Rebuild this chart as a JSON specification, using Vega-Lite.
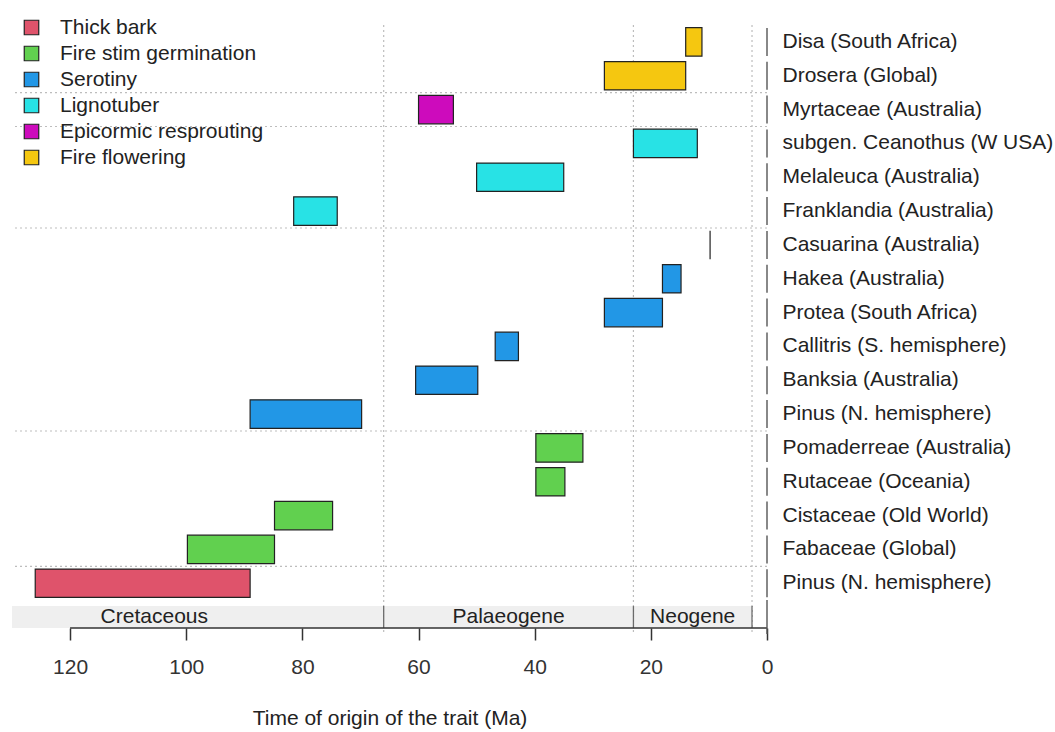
{
  "$schema": "https://vega.github.io/schema/vega-lite/v6.json",
  "autosize": {"type": "none"},
  "width": 755,
  "height": 609,
  "padding": {"left": 12, "top": 25, "right": 288, "bottom": 98},
  "background": "white",
  "config": {
    "font": "Liberation Sans",
    "view": {"stroke": null},
    "text": {"font": "Liberation Sans"}
  },
  "datasets": {
    "traits": [
      {"taxon": "Disa (South Africa)", "trait": "Fire flowering", "start": 14, "end": 11.2},
      {"taxon": "Drosera (Global)", "trait": "Fire flowering", "start": 28, "end": 14},
      {"taxon": "Myrtaceae (Australia)", "trait": "Epicormic resprouting", "start": 60, "end": 54},
      {"taxon": "subgen. Ceanothus (W USA)", "trait": "Lignotuber", "start": 23, "end": 12},
      {"taxon": "Melaleuca (Australia)", "trait": "Lignotuber", "start": 50, "end": 35},
      {"taxon": "Franklandia (Australia)", "trait": "Lignotuber", "start": 81.5, "end": 74},
      {"taxon": "Casuarina (Australia)", "trait": "Serotiny", "start": 9.8, "end": 9.8},
      {"taxon": "Hakea (Australia)", "trait": "Serotiny", "start": 18, "end": 14.8},
      {"taxon": "Protea (South Africa)", "trait": "Serotiny", "start": 28, "end": 18},
      {"taxon": "Callitris (S. hemisphere)", "trait": "Serotiny", "start": 46.8, "end": 42.8},
      {"taxon": "Banksia (Australia)", "trait": "Serotiny", "start": 60.5, "end": 49.8},
      {"taxon": "Pinus (N. hemisphere)", "trait": "Serotiny", "start": 89, "end": 69.8},
      {"taxon": "Pomaderreae (Australia)", "trait": "Fire stim germination", "start": 39.8, "end": 31.7},
      {"taxon": "Rutaceae (Oceania)", "trait": "Fire stim germination", "start": 39.8, "end": 34.8},
      {"taxon": "Cistaceae (Old World)", "trait": "Fire stim germination", "start": 84.8, "end": 74.8},
      {"taxon": "Fabaceae (Global)", "trait": "Fire stim germination", "start": 99.8, "end": 84.8},
      {"taxon": "Pinus (N. hemisphere) ", "trait": "Thick bark", "start": 126, "end": 89}
    ],
    "separators": [
      {"taxon": "Myrtaceae (Australia)"},
      {"taxon": "subgen. Ceanothus (W USA)"},
      {"taxon": "Casuarina (Australia)"},
      {"taxon": "Pomaderreae (Australia)"},
      {"taxon": "Pinus (N. hemisphere) "}
    ],
    "boundaries": [
      {"ma": 66, "taxon": "period"},
      {"ma": 23, "taxon": "period"},
      {"ma": 2.58, "taxon": "period"}
    ],
    "periods": [
      {"period": "Cretaceous", "start": 145, "end": 66, "mid": 105.5, "taxon": "period"},
      {"period": "Palaeogene", "start": 66, "end": 23, "mid": 44.5, "taxon": "period"},
      {"period": "Neogene", "start": 23, "end": 2.58, "mid": 12.8, "taxon": "period"}
    ],
    "axisline": [
      {"a": 120, "b": 0, "taxon": "period"}
    ]
  },
  "encoding": {
    "y": {
      "field": "taxon",
      "type": "nominal",
      "scale": {
        "domain": [
          "Disa (South Africa)", "Drosera (Global)", "Myrtaceae (Australia)", "subgen. Ceanothus (W USA)",
          "Melaleuca (Australia)", "Franklandia (Australia)", "Casuarina (Australia)", "Hakea (Australia)",
          "Protea (South Africa)", "Callitris (S. hemisphere)", "Banksia (Australia)", "Pinus (N. hemisphere)",
          "Pomaderreae (Australia)", "Rutaceae (Oceania)", "Cistaceae (Old World)", "Fabaceae (Global)",
          "Pinus (N. hemisphere) ", "period"
        ],
        "paddingInner": 0,
        "paddingOuter": 0
      },
      "axis": {
        "orient": "right",
        "title": null,
        "domain": false,
        "ticks": false,
        "grid": false,
        "labelPadding": 15,
        "labelFontSize": 21,
        "labelColor": "#222222",
        "labelFont": "Liberation Sans",
        "labelLimit": 400,
        "labelExpr": "datum.value == 'period' ? '' : datum.value"
      }
    }
  },
  "layer": [
    {
      "data": {"name": "boundaries"},
      "mark": {"type": "rule", "color": "#bdbdbd", "strokeDash": [2, 3], "strokeWidth": 1.2},
      "encoding": {
        "x": {"field": "ma", "type": "quantitative"},
        "y": null
      }
    },
    {
      "data": {"name": "separators"},
      "mark": {"type": "rule", "color": "#bdbdbd", "strokeDash": [2, 3], "strokeWidth": 1.2},
      "encoding": {
        "y": {"field": "taxon", "type": "nominal", "bandPosition": 0}
      }
    },
    {
      "data": {"name": "traits"},
      "mark": {"type": "bar", "height": {"band": 0.84}, "stroke": "#222222", "strokeWidth": 1.2},
      "encoding": {
        "x": {
          "field": "start",
          "type": "quantitative",
          "scale": {"domain": [0, 130], "reverse": true, "nice": false, "zero": false},
          "axis": {
            "values": [0, 20, 40, 60, 80, 100, 120],
            "title": "Time of origin of the trait (Ma)",
            "titleFontSize": 21,
            "titleFontWeight": "normal",
            "titleColor": "#222222",
            "titlePadding": 30,
            "domain": false,
            "grid": false,
            "offset": -6,
            "tickSize": 12,
            "tickColor": "#333333",
            "tickWidth": 1.5,
            "labelFontSize": 21,
            "labelColor": "#333333",
            "labelPadding": 16,
            "labelFlush": false
          }
        },
        "x2": {"field": "end"},
        "fill": {
          "field": "trait",
          "type": "nominal",
          "scale": {
            "domain": ["Thick bark", "Fire stim germination", "Serotiny", "Lignotuber", "Epicormic resprouting", "Fire flowering"],
            "range": ["#DF536B", "#61D04F", "#2297E6", "#28E2E5", "#CD0BBC", "#F5C710"]
          },
          "legend": {
            "orient": "none",
            "legendX": 9,
            "legendY": -8,
            "title": null,
            "symbolType": "square",
            "symbolSize": 210,
            "symbolStrokeColor": "#222222",
            "symbolStrokeWidth": 1.2,
            "symbolOpacity": 1,
            "labelFontSize": 21,
            "labelColor": "#222222",
            "labelOffset": 18,
            "rowPadding": 4,
            "labelLimit": 400
          }
        }
      }
    },
    {
      "data": {"name": "periods"},
      "mark": {"type": "bar", "height": {"band": 0.65}, "fill": "#efefef", "clip": true},
      "encoding": {
        "x": {"field": "start", "type": "quantitative"},
        "x2": {"field": "end"}
      }
    },
    {
      "data": {"name": "boundaries"},
      "mark": {"type": "tick", "color": "#333333", "thickness": 1.3, "size": 22},
      "encoding": {
        "x": {"field": "ma", "type": "quantitative"}
      }
    },
    {
      "data": {"name": "periods"},
      "mark": {"type": "text", "fontSize": 21, "color": "#222222", "align": "center", "baseline": "middle"},
      "encoding": {
        "x": {"field": "mid", "type": "quantitative"},
        "text": {"field": "period"}
      }
    },
    {
      "data": {"name": "traits"},
      "mark": {"type": "tick", "color": "#555555", "thickness": 2, "size": 28},
      "encoding": {
        "x": {"datum": 0, "type": "quantitative"}
      }
    },
    {
      "data": {"name": "axisline"},
      "mark": {"type": "rule", "color": "#333333", "strokeWidth": 1.5, "yOffset": -6},
      "encoding": {
        "x": {"field": "a", "type": "quantitative"},
        "x2": {"field": "b"},
        "y": {"field": "taxon", "type": "nominal", "bandPosition": 1}
      }
    },
    {
      "data": {"name": "axisline"},
      "mark": {"type": "tick", "color": "#555555", "thickness": 2, "size": 34},
      "encoding": {
        "x": {"field": "b", "type": "quantitative"}
      }
    }
  ]
}
